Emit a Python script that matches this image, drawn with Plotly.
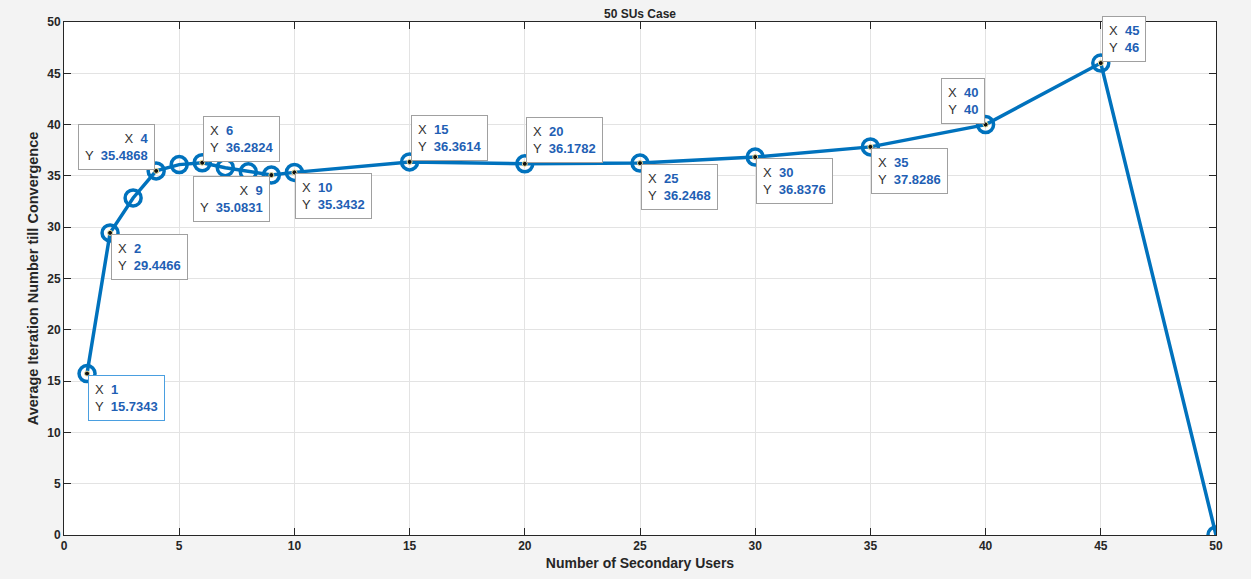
import plotly.graph_objects as go

x_vals = [1, 2, 3, 4, 5, 6, 7, 8, 9, 10, 15, 20, 25, 30, 35, 40, 45, 50]
y_vals = [15.7343, 29.4466, 32.85, 35.4868, 36.1, 36.2824, 35.8, 35.4, 35.0831, 35.3432,
          36.3614, 36.1782, 36.2468, 36.8376, 37.8286, 40, 46, 0]

tip_x = [1, 2, 4, 6, 9, 10, 15, 20, 25, 30, 35, 40, 45]
tip_y = [15.7343, 29.4466, 35.4868, 36.2824, 35.0831, 35.3432, 36.3614, 36.1782,
         36.2468, 36.8376, 37.8286, 40, 46]
tip_ylabel = ["15.7343", "29.4466", "35.4868", "36.2824", "35.0831", "35.3432", "36.3614",
              "36.1782", "36.2468", "36.8376", "37.8286", "40", "46"]
# placement of each datatip box relative to its point: (xanchor, yanchor)
tip_place = [("left", "top"), ("left", "top"), ("right", "bottom"), ("left", "bottom"),
             ("right", "top"), ("left", "top"), ("left", "bottom"), ("left", "bottom"),
             ("left", "top"), ("left", "top"), ("left", "top"), ("right", "bottom"),
             ("left", "bottom")]

blue = "#0072BD"
val_col = "#1F5FB4"
font_fam = "Liberation Sans, Arial, Helvetica, sans-serif"

fig = go.Figure()
fig.add_trace(go.Scatter(
    x=x_vals, y=y_vals, mode="lines+markers",
    line=dict(color=blue, width=3.5),
    marker=dict(symbol="circle-open", size=16, color=blue, line=dict(width=3.5, color=blue)),
    hoverinfo="skip", showlegend=False))
fig.add_trace(go.Scatter(
    x=tip_x, y=tip_y, mode="markers",
    marker=dict(symbol="circle", size=5, color="#111111", line=dict(width=1, color="#E8E0A0")),
    hoverinfo="skip", showlegend=False))

for i, (tx, ty) in enumerate(zip(tip_x, tip_y)):
    xa, ya = tip_place[i]
    txt = (f"X  <span style='color:{val_col}'><b>{tx}</b></span><br>"
           f"Y  <span style='color:{val_col}'><b>{tip_ylabel[i]}</b></span>")
    fig.add_annotation(
        x=tx, y=ty, xref="x", yref="y", text=txt, showarrow=False,
        xanchor=xa, yanchor=ya, align="right" if xa == "right" else "left",
        xshift=1 if xa == "left" else -1, yshift=-1 if ya == "top" else 1,
        font=dict(family=font_fam, size=13, color="#333333"),
        bgcolor="white", bordercolor="#4A9FE0" if i == 0 else "#A0A0A0",
        borderwidth=1, borderpad=6)

axis_common = dict(
    showgrid=True, gridcolor="#E3E3E3", gridwidth=1,
    showline=True, linecolor="#262626", linewidth=1, mirror="ticks",
    ticks="inside", ticklen=7, tickcolor="#262626", zeroline=False,
    tickfont=dict(family=font_fam, size=12, color="#262626", weight="bold"),
)

fig.update_layout(
    width=1251, height=579,
    paper_bgcolor="#F3F3F3", plot_bgcolor="white",
    margin=dict(l=64, r=35, t=22, b=44),
    title=dict(text="<b>50 SUs Case</b>", x=0.5, xanchor="center", xref="paper",
               y=1, yref="paper", yanchor="bottom", pad=dict(b=4),
               font=dict(family=font_fam, size=12, color="#262626")),
    xaxis=dict(range=[0, 50], tickvals=list(range(0, 51, 5)),
               title=dict(text="<b>Number of Secondary Users</b>", standoff=5,
                          font=dict(family=font_fam, size=14, color="#262626")),
               **axis_common),
    yaxis=dict(range=[0, 50], tickvals=list(range(0, 51, 5)),
               title=dict(text="<b>Average Iteration Number till Convergence</b>", standoff=5,
                          font=dict(family=font_fam, size=14.5, color="#262626")),
               **axis_common),
)

fig.write_html("out.html")
